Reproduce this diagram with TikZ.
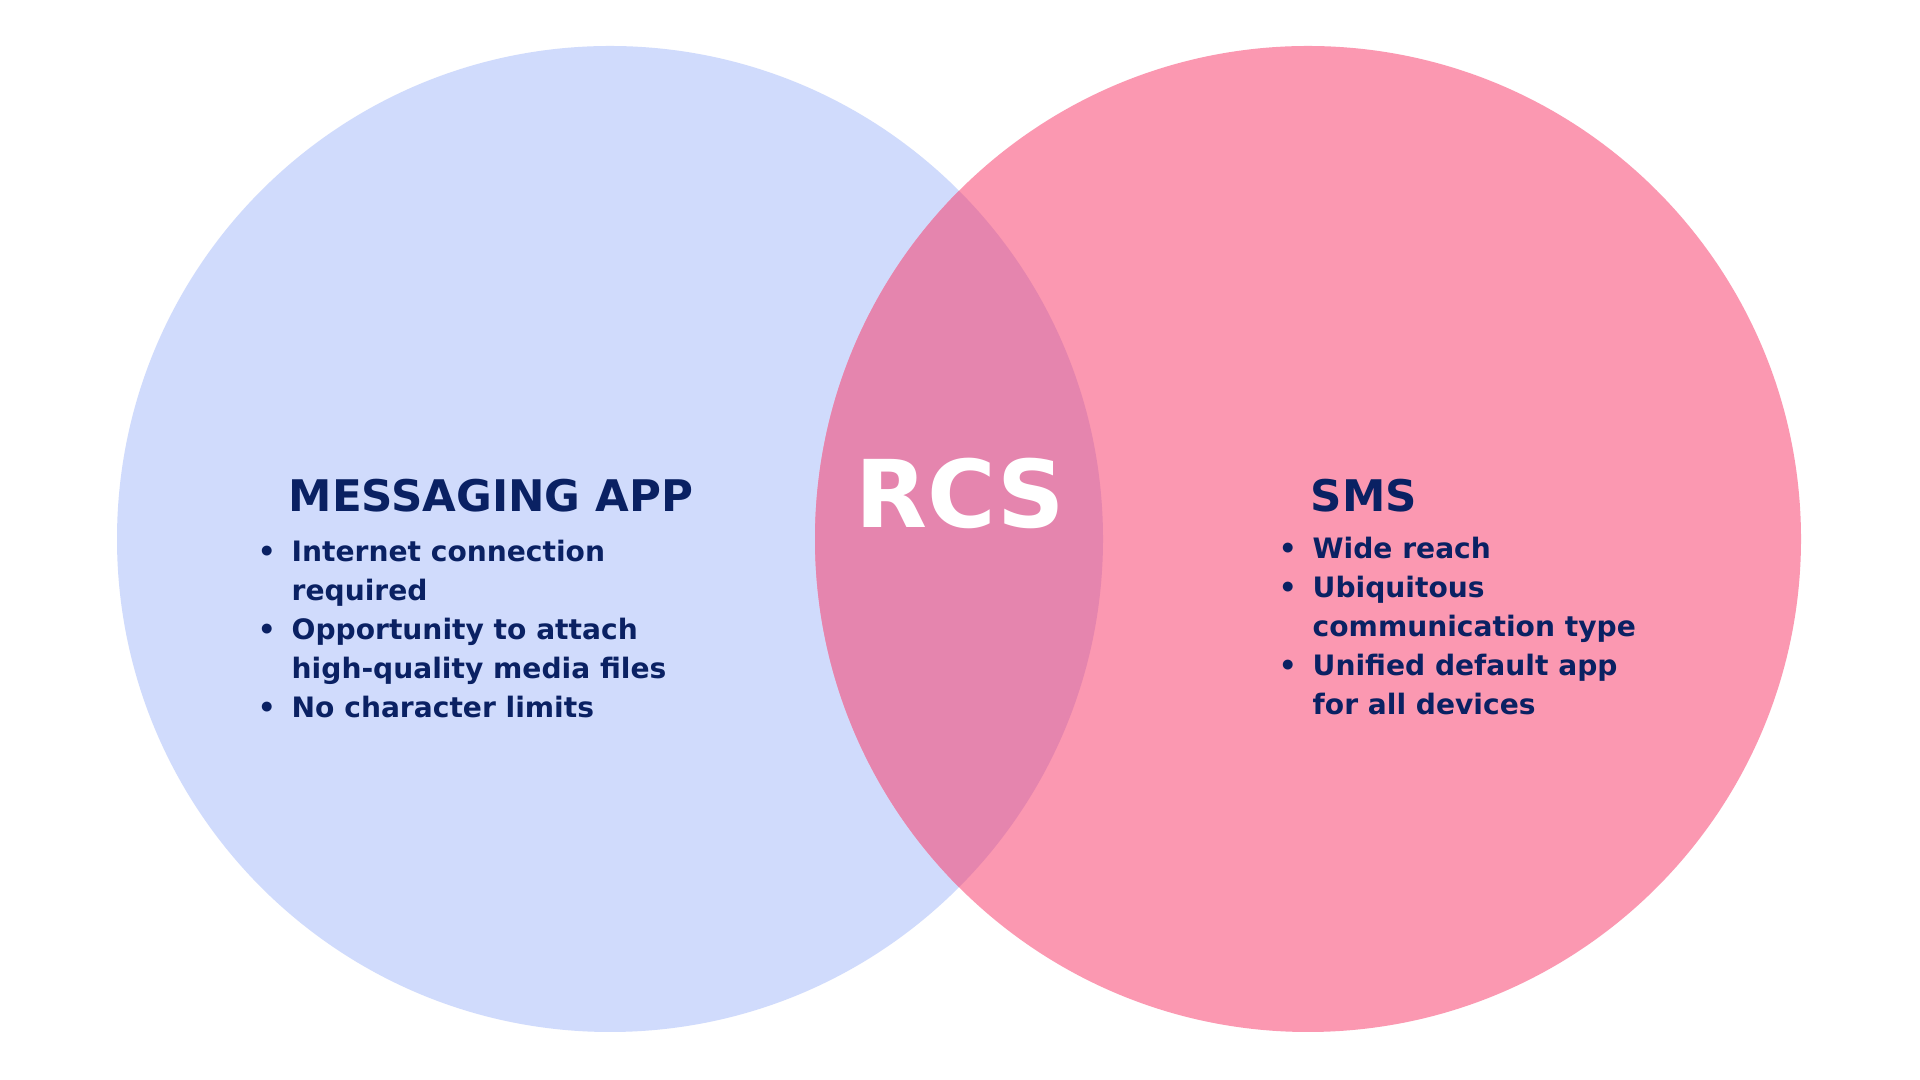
\documentclass[tikz,border=0pt]{standalone}
\usepackage{fontspec}
\setmainfont{DejaVu Sans}
\definecolor{appblue}{HTML}{D0DBFC}
\definecolor{smspink}{HTML}{FB98B1}
\definecolor{rcsmix}{HTML}{E585AE}
\definecolor{navy}{HTML}{0A2163}
\newcommand{\bul}{\llap{\textbullet\hspace{4.5pt}}}

\begin{document}
\begin{tikzpicture}[title/.style={anchor=base west,inner sep=0pt,text=navy,font=\fontsize{12.4}{15}\selectfont\bfseries},
  list/.style={anchor=base west,inner sep=0pt,text=navy,align=left,font=\fontsize{8.0}{11.1}\selectfont\bfseries}]
\useasboundingbox (0,0) rectangle (19.2,10.8);
\fill[white] (0,0) rectangle (19.2,10.8);
\fill[appblue] (6.10,5.41) circle (4.93);
\fill[smspink] (13.08,5.41) circle (4.93);
\begin{scope}
\clip (6.10,5.41) circle (4.93);
\fill[rcsmix] (13.08,5.41) circle (4.93);
\end{scope}

\node[title] at (2.88,5.68) (app) {MESSAGING APP};
% lists sit on the baseline of their last line
\node[list] at (2.91,3.62) (applist) {\bul Internet connection\\ required\\ \bul Opportunity to attach\\ high-quality media files\\ \bul No character limits};
\node[title] at (13.10,5.68) (sms) {SMS};
\node[list] at (13.12,3.65) (smslist) {\bul Wide reach\\ \bul Ubiquitous\\ communication type\\ \bul Unified default app\\ for all devices};
\node[anchor=base,inner sep=0pt,text=white,font=\fontsize{26.6}{30}\selectfont\bfseries] at (9.60,5.52) (rcs) {RCS};
\end{tikzpicture}
\end{document}
